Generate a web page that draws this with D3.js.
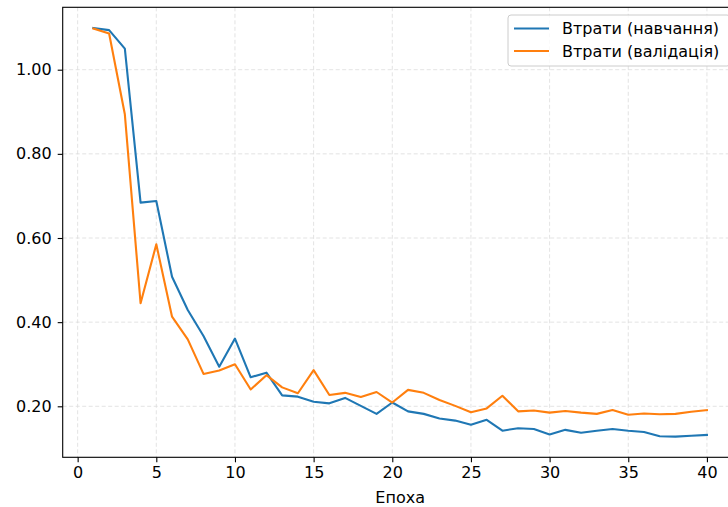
<!DOCTYPE html>
<html>
<head>
<meta charset="utf-8">
<script src="https://cdn.jsdelivr.net/npm/d3@7"></script>
<style>
  html, body { margin: 0; padding: 0; background: #fff; }
  svg { display: block; }
  text { font-family: "DejaVu Sans", sans-serif; }
</style>
</head>
<body>
<svg id="chart" width="728" height="507"></svg>
<script>
const epochs = d3.range(1, 41);
const trainLoss = [1.099, 1.094, 1.050, 0.684, 0.688, 0.508, 0.429, 0.367, 0.294, 0.361,
                   0.269, 0.280, 0.226, 0.223, 0.211, 0.207, 0.220, 0.201, 0.182, 0.209,
                   0.188, 0.182, 0.171, 0.166, 0.156, 0.168, 0.142, 0.148, 0.146, 0.133,
                   0.144, 0.137, 0.142, 0.146, 0.142, 0.139, 0.129, 0.128, 0.130, 0.132];
const valLoss = [1.098, 1.086, 0.894, 0.445, 0.585, 0.413, 0.359, 0.277, 0.285, 0.300,
                 0.240, 0.274, 0.245, 0.231, 0.286, 0.227, 0.232, 0.222, 0.234, 0.209,
                 0.239, 0.232, 0.215, 0.201, 0.186, 0.195, 0.225, 0.188, 0.190, 0.185,
                 0.189, 0.185, 0.182, 0.191, 0.180, 0.183, 0.181, 0.182, 0.187, 0.191];
const xTicks = [0, 5, 10, 15, 20, 25, 30, 35, 40];
const yTicks = [0.20, 0.40, 0.60, 0.80, 1.00];
const seriesNames = ["Втрати (навчання)", "Втрати (валідація)"];
const seriesColors = ["#1f77b4", "#ff7f0e"];
const xLabel = "Епоха";

const svg = d3.select("#chart");
const L = 62.7, R = 737.6, T = 7.3, B = 457.3;

const x = d3.scaleLinear().domain([-0.95, 41.95]).range([L, R]);
const y = d3.scaleLinear().domain([0.0788, 1.1483]).range([B, T]);

// grid
const grid = svg.append("g");
grid.selectAll(".gx").data(xTicks).enter().append("line")
  .attr("x1", d => x(d)).attr("x2", d => x(d)).attr("y1", T).attr("y2", B)
  .attr("stroke", "#dcdcdc").attr("stroke-width", 0.8).attr("stroke-dasharray", "4,2.5");
grid.selectAll(".gy").data(yTicks).enter().append("line")
  .attr("x1", L).attr("x2", R).attr("y1", d => y(d)).attr("y2", d => y(d))
  .attr("stroke", "#dcdcdc").attr("stroke-width", 0.8).attr("stroke-dasharray", "4,2.5");

// lines
const line = d3.line().x((d, i) => x(epochs[i])).y(d => y(d));
[trainLoss, valLoss].forEach((s, k) => {
  svg.append("path").datum(s).attr("d", line)
    .attr("fill", "none").attr("stroke", seriesColors[k])
    .attr("stroke-width", 2.1).attr("stroke-linejoin", "round").attr("stroke-linecap", "square");
});

// axes
const xAxis = d3.axisBottom(x).tickValues(xTicks).tickSize(5).tickPadding(4.5).tickFormat(d3.format("d"));
const yAxis = d3.axisLeft(y).tickValues(yTicks).tickSize(5).tickPadding(6).tickFormat(d3.format(".2f"));
const gx = svg.append("g").attr("transform", `translate(0,${B})`).call(xAxis);
const gy = svg.append("g").attr("transform", `translate(${L},0)`).call(yAxis);
[gx, gy].forEach(g => {
  g.select(".domain").remove();
  g.selectAll(".tick line").attr("stroke", "#000").attr("stroke-width", 1.1);
  g.selectAll(".tick text").attr("fill", "#000").style("font-size", "16px")
    .style("font-family", "'DejaVu Sans', sans-serif");
});

// spines
svg.append("rect").attr("x", L).attr("y", T).attr("width", R - L).attr("height", B - T)
  .attr("fill", "none").attr("stroke", "#000").attr("stroke-width", 1.1);

// x label
svg.append("text").attr("x", (L + R) / 2).attr("y", 503).attr("text-anchor", "middle")
  .style("font-size", "16px").attr("fill", "#000").text(xLabel);

// legend
const lg = svg.append("g");
lg.append("rect").attr("x", 508).attr("y", 15).attr("width", 222).attr("height", 51)
  .attr("rx", 3).attr("fill", "#fff").attr("fill-opacity", 0.8)
  .attr("stroke", "#cccccc").attr("stroke-width", 1);
seriesNames.forEach((n, k) => {
  const cy = 28.5 + k * 22.5;
  lg.append("line").attr("x1", 514).attr("x2", 549).attr("y1", cy).attr("y2", cy)
    .attr("stroke", seriesColors[k]).attr("stroke-width", 2.1);
  lg.append("text").attr("x", 562).attr("y", cy).attr("dy", "0.36em")
    .style("font-size", "16px").attr("fill", "#000").text(n);
});
</script>
</body>
</html>
